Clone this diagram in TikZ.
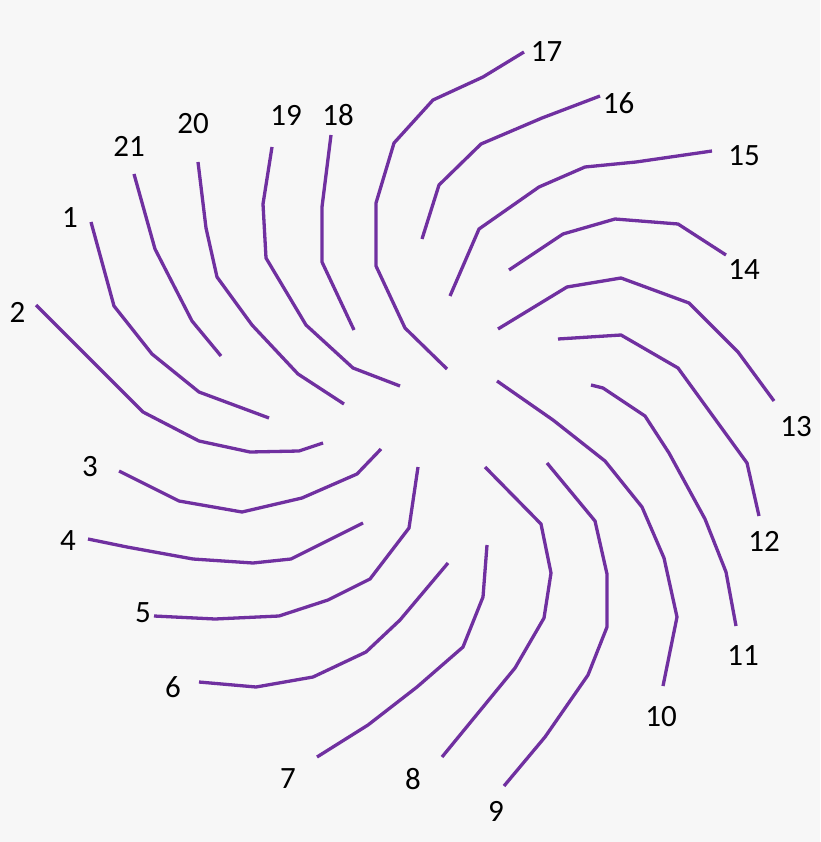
\documentclass[tikz,border=0pt]{standalone}
\usepackage{fontspec}
\setmainfont{Carlito}
\definecolor{bg}{RGB}{247,247,247}
\definecolor{arm}{RGB}{112,48,160}
\begin{document}
\begin{tikzpicture}[x=1pt,y=-1pt,
  armline/.style={draw=arm,line width=3.3pt,line join=miter},
  num/.style={font=\fontsize{31}{37}\selectfont,text=black,inner sep=0pt}]
\fill[bg] (0,0) rectangle (820,842);
\useasboundingbox (0,0) rectangle (820,842);
% arms
\draw[armline] (91,222) -- (114,306) -- (152,354) -- (199,392) -- (269,418);
\draw[armline] (36,305) -- (143,412) -- (199,441) -- (250,452) -- (299,451) -- (323,443);
\draw[armline] (119,471) -- (179,501) -- (242,512) -- (302,498) -- (357,474) -- (381,449);
\draw[armline] (88,539) -- (127,547) -- (193,559) -- (253,563) -- (291,559) -- (363,523);
\draw[armline] (154,616) -- (215,619) -- (279,616) -- (328,600) -- (370,579) -- (409,528) -- (418,467);
\draw[armline] (199,682) -- (256,687) -- (313,677) -- (366,652) -- (400,620) -- (448,563);
\draw[armline] (317,757) -- (368,725) -- (417,687) -- (463,647) -- (483,597) -- (487,545);
\draw[armline] (442,757) -- (515,668) -- (544,618) -- (551,573) -- (541,524) -- (485,467);
\draw[armline] (504,786) -- (545,737) -- (588,675) -- (607,627) -- (607,574) -- (595,521) -- (547,463);
\draw[armline] (663,686) -- (677,617) -- (664,558) -- (642,507) -- (605,461) -- (553,420) -- (497,381);
\draw[armline] (736,626) -- (726,572) -- (705,519) -- (669,453) -- (645,416) -- (603,388) -- (591,385);
\draw[armline] (759,516) -- (747,463) -- (678,368) -- (621,335) -- (558,339);
\draw[armline] (774,401) -- (738,352) -- (689,303) -- (621,278) -- (567,287) -- (498,329);
\draw[armline] (726,255) -- (678,224) -- (615,219) -- (563,234) -- (509,270);
\draw[armline] (712,151) -- (636,162) -- (585,167) -- (539,187) -- (479,229) -- (450,296);
\draw[armline] (600,96) -- (542,118) -- (481,144) -- (439,185) -- (422,239);
\draw[armline] (524,52) -- (483,77) -- (433,100) -- (394,143) -- (376,203) -- (376,266) -- (405,328) -- (447,369);
\draw[armline] (331,135) -- (322,207) -- (322,262) -- (354,330);
\draw[armline] (272,147) -- (263,204) -- (266,258) -- (306,325) -- (353,368) -- (400,386);
\draw[armline] (198,162) -- (206,228) -- (217,277) -- (252,325) -- (298,374) -- (344,404);
\draw[armline] (134,174) -- (155,249) -- (192,321) -- (221,356);
% labels
\node[num] (l1) at (70,218) {1};
\node[num] (l2) at (17.5,312) {2};
\node[num] (l3) at (90,467) {3};
\node[num] (l4) at (68,541) {4};
\node[num] (l5) at (143,613) {5};
\node[num] (l6) at (173,687) {6};
\node[num] (l7) at (288,779) {7};
\node[num] (l8) at (413,779) {8};
\node[num] (l9) at (496,811) {9};
\node[num] (l10) at (661,717) {10};
\node[num] (l11) at (743,656) {11};
\node[num] (l12) at (764,541) {12};
\node[num] (l13) at (796,427) {13};
\node[num] (l14) at (744,270) {14};
\node[num] (l15) at (744,156) {15};
\node[num] (l16) at (618.5,103) {16};
\node[num] (l17) at (546.5,52) {17};
\node[num] (l18) at (338,115) {18};
\node[num] (l19) at (286,115) {19};
\node[num] (l20) at (193,124) {20};
\node[num] (l21) at (129,146) {21};
\end{tikzpicture}
\end{document}
